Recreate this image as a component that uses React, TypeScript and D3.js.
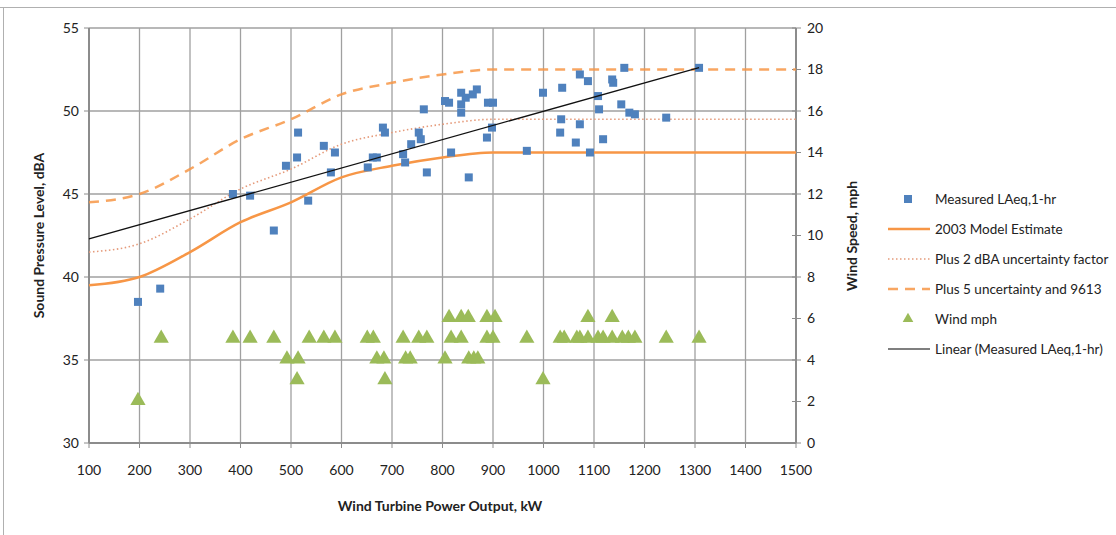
import React from 'react';
import * as d3 from 'd3';

// Measured LAeq,1-hr: [kW, dBA]
const measured: [number, number][] = [
  [197, 38.5], [241, 39.3], [385, 45.0], [419, 44.9], [466, 42.8], [490, 46.7],
  [512, 47.2], [514, 48.7], [534, 44.6], [565, 47.9], [579, 46.3], [587, 47.5],
  [652, 46.6], [662, 47.2], [670, 47.2], [682, 49.0], [686, 48.7], [722, 47.4],
  [726, 46.9], [738, 48.0], [753, 48.7], [757, 48.3], [763, 50.1], [769, 46.3],
  [805, 50.6], [813, 50.5], [817, 47.5], [837, 51.1], [837, 50.4], [837, 49.9],
  [846, 50.8], [852, 46.0], [860, 51.0], [868, 51.3], [888, 48.4], [890, 50.5],
  [900, 50.5], [898, 49.0], [967, 47.6], [999, 51.1], [1033, 48.7], [1035, 49.5],
  [1037, 51.4], [1064, 48.1], [1072, 52.2], [1072, 49.2], [1088, 51.8], [1092, 47.5],
  [1108, 50.9], [1110, 50.1], [1118, 48.3], [1136, 51.9], [1138, 51.7], [1154, 50.4],
  [1160, 52.6], [1170, 49.9], [1181, 49.8], [1243, 49.6], [1308, 52.6]
];

// Wind mph: [kW, mph]
const wind: [number, number][] = [
  [197, 2], [243, 5], [385, 5], [419, 5], [466, 5], [492, 4], [514, 4], [512, 3],
  [536, 5], [565, 5], [587, 5], [651, 5], [663, 5], [670, 4], [684, 4], [686, 3],
  [722, 5], [727, 4], [736, 4], [753, 5], [769, 5], [805, 4], [813, 6], [817, 5],
  [837, 6], [837, 5], [851, 6], [852, 4], [862, 4], [870, 4], [888, 6], [904, 6],
  [888, 5], [900, 5], [967, 5], [999, 3], [1033, 5], [1041, 5], [1066, 5], [1072, 5],
  [1088, 6], [1088, 5], [1108, 5], [1118, 5], [1136, 6], [1136, 5], [1156, 5],
  [1168, 5], [1181, 5], [1243, 5], [1308, 5]
];

const modelKw = [100, 200, 300, 400, 500, 600, 700, 800, 900, 1000, 1100, 1200, 1300, 1400, 1500];
const modelEstimate = [39.5, 40, 41.5, 43.3, 44.5, 46, 46.7, 47.2, 47.5, 47.5, 47.5, 47.5, 47.5, 47.5, 47.5];
const plus2 = [41.5, 42, 43.5, 45.3, 46.5, 48, 48.7, 49.2, 49.5, 49.5, 49.5, 49.5, 49.5, 49.5, 49.5];
const plus5 = [44.5, 45, 46.5, 48.3, 49.5, 51, 51.7, 52.2, 52.5, 52.5, 52.5, 52.5, 52.5, 52.5, 52.5];

const xTicks = d3.range(100, 1501, 100);
const yTicks = [30, 35, 40, 45, 50, 55];
const y2Ticks = d3.range(0, 21, 2);

const FONT = 'Lato, "Open Sans", sans-serif';
const BLUE = '#4F81BD';
const GREEN = '#9BBB59';
const ORANGE = '#F79646';
const GRID = '#a0a0a0';

export default function App() {
  const left = 89, right = 796, top = 28, bottom = 443;
  const x = d3.scaleLinear().domain([100, 1500]).range([left, right]);
  const y = d3.scaleLinear().domain([30, 55]).range([bottom, top]);
  const y2 = d3.scaleLinear().domain([0, 20]).range([bottom, top]);

  const line = d3.line<number>()
    .x((_, i) => x(modelKw[i]))
    .y(d => y(d))
    .curve(d3.curveMonotoneX);

  // Linear trend of measured levels
  const mx = d3.mean(measured, d => d[0])!;
  const my = d3.mean(measured, d => d[1])!;
  const sxy = d3.sum(measured, d => (d[0] - mx) * (d[1] - my));
  const sxx = d3.sum(measured, d => (d[0] - mx) ** 2);
  const slope = sxy / sxx;
  const icpt = my - slope * mx;
  const trendEnd = d3.max(measured, d => d[0])!;

  const tri = d3.symbol().type(d3.symbolTriangle).size(100)();

  const legendItems = [
    { label: 'Measured LAeq,1-hr', kind: 'square' },
    { label: '2003 Model Estimate', kind: 'solid' },
    { label: 'Plus 2 dBA uncertainty factor', kind: 'dot' },
    { label: 'Plus 5 uncertainty and 9613', kind: 'dash' },
    { label: 'Wind mph', kind: 'tri' },
    { label: 'Linear (Measured LAeq,1-hr)', kind: 'trend' }
  ];

  return (
    <div style={{ position: 'absolute', left: 0, top: 0 }}>
      <svg width={1116} height={535} style={{ display: 'block', background: '#fff' }} fontFamily={FONT}>
        {/* frame */}
        <line x1={0} x2={1116} y1={7.5} y2={7.5} stroke="#b0b0b0" />
        <line x1={3.5} x2={3.5} y1={7} y2={535} stroke="#b0b0b0" />

        {/* grid */}
        {xTicks.slice(1, -1).map(t => (
          <line key={'gx' + t} x1={x(t)} x2={x(t)} y1={top} y2={bottom} stroke={GRID} strokeWidth={1.3} />
        ))}
        {yTicks.slice(1).map(t => (
          <line key={'gy' + t} x1={left} x2={right} y1={y(t)} y2={y(t)} stroke={GRID} strokeWidth={1.3} />
        ))}

        {/* axes */}
        <line x1={left} x2={left} y1={top} y2={bottom} stroke="#8c8c8c" strokeWidth={2} />
        <line x1={right} x2={right} y1={top} y2={bottom} stroke="#8c8c8c" strokeWidth={2} />
        <line x1={left} x2={right} y1={bottom} y2={bottom} stroke="#8c8c8c" strokeWidth={2} />
        {yTicks.map(t => (
          <g key={'yt' + t}>
            <line x1={left - 5} x2={left} y1={y(t)} y2={y(t)} stroke="#8c8c8c" />
            <text x={left - 10} y={y(t)} dy="0.35em" textAnchor="end" fontSize={14} fill="#222">{t}</text>
          </g>
        ))}
        {y2Ticks.map(t => (
          <g key={'y2t' + t}>
            <line x1={right - 4} x2={right + 5} y1={y2(t)} y2={y2(t)} stroke="#8c8c8c" />
            <text x={right + 11} y={y2(t)} dy="0.35em" textAnchor="start" fontSize={14} fill="#222">{t}</text>
          </g>
        ))}
        {xTicks.map(t => (
          <g key={'xt' + t}>
            <line x1={x(t)} x2={x(t)} y1={bottom} y2={bottom + 5} stroke="#8c8c8c" />
            <text x={x(t)} y={470} dy="0.35em" textAnchor="middle" fontSize={14} fill="#222">{t}</text>
          </g>
        ))}

        {/* axis titles */}
        <text transform={`translate(39,${(top + bottom) / 2}) rotate(-90)`} textAnchor="middle" dy="0.35em" fontSize={14} fontWeight="bold" fill="#222">Sound Pressure Level, dBA</text>
        <text transform={`translate(852,236) rotate(-90)`} textAnchor="middle" dy="0.35em" fontSize={14} fontWeight="bold" fill="#222">Wind Speed, mph</text>
        <text x={440} y={506} textAnchor="middle" dy="0.35em" fontSize={14} fontWeight="bold" fill="#222">Wind Turbine Power Output, kW</text>

        {/* model lines */}
        <path d={line(plus5)!} fill="none" stroke={ORANGE} strokeOpacity={0.85} strokeWidth={2.5} strokeDasharray="10,7" />
        <path d={line(plus2)!} fill="none" stroke="#e59a7a" strokeWidth={1.6} strokeDasharray="1.5,2.5" />
        <path d={line(modelEstimate)!} fill="none" stroke={ORANGE} strokeWidth={2.5} />

        {/* wind */}
        {wind.map((d, i) => (
          <path key={'w' + i} d={tri!} transform={`translate(${x(d[0])},${y2(d[1]) - 1})`} fill={GREEN} />
        ))}

        {/* measured */}
        {measured.map((d, i) => (
          <rect key={'m' + i} x={x(d[0]) - 4} y={y(d[1]) - 4} width={8} height={8} fill={BLUE} />
        ))}

        {/* trend */}
        <line x1={x(100)} y1={y(icpt + slope * 100)} x2={x(trendEnd)} y2={y(icpt + slope * trendEnd)} stroke="#111" strokeWidth={1.3} />

        {/* legend */}
        {legendItems.map((it, i) => {
          const ly = 199 + i * 30;
          return (
            <g key={'lg' + i}>
              {it.kind === 'square' && <rect x={904} y={ly - 4} width={8} height={8} fill={BLUE} />}
              {it.kind === 'solid' && <line x1={888} x2={930} y1={ly} y2={ly} stroke={ORANGE} strokeWidth={2.5} />}
              {it.kind === 'dot' && <line x1={888} x2={930} y1={ly} y2={ly} stroke="#e59a7a" strokeWidth={1.6} strokeDasharray="1.5,2.5" />}
              {it.kind === 'dash' && <line x1={888} x2={930} y1={ly} y2={ly} stroke={ORANGE} strokeOpacity={0.85} strokeWidth={2.5} strokeDasharray="10,7" />}
              {it.kind === 'tri' && <path d={tri!} transform={`translate(908,${ly}) scale(0.7)`} fill={GREEN} />}
              {it.kind === 'trend' && <line x1={888} x2={930} y1={ly} y2={ly} stroke="#555" strokeWidth={1.3} />}
              <text x={935} y={ly} dy="0.35em" fontSize={13.5} fill="#222">{it.label}</text>
            </g>
          );
        })}
      </svg>
    </div>
  );
}
